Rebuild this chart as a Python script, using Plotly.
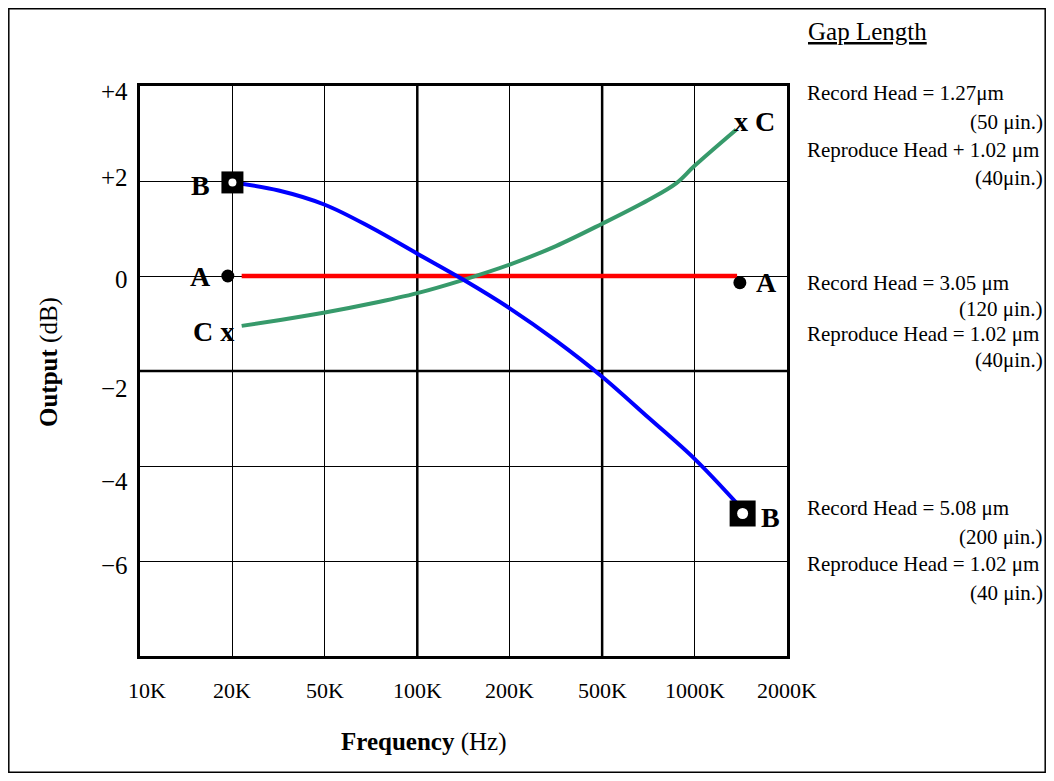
import plotly.graph_objects as go

# ---------------- data ----------------
freq_labels = ["10K", "20K", "50K", "100K", "200K", "500K", "1000K", "2000K"]
freq_pos = [0, 1, 2, 3, 4, 5, 6, 7]

y_tick_labels = ["+4", "+2", "0", "\u22122", "\u22124", "\u22126"]
y_label_at = [3.88, 2.07, -0.08, -2.37, -4.33, -6.10]

# Curve A (red): flat response
a_x = [1.10, 6.46]
a_y = [0.0, 0.0]

# Curve B (blue)
b_x = [1.0, 1.5, 2.0, 2.5, 3.0, 3.5, 4.0, 4.5, 5.0, 5.5, 6.0, 6.45]
b_y = [1.97, 1.80, 1.50, 1.02, 0.47, -0.08, -0.68, -1.36, -2.12, -2.98, -3.85, -4.77]

# Curve C (green)
c_x = [1.10, 1.5, 2.0, 2.5, 3.0, 3.5, 4.0, 4.5, 5.0, 5.5, 5.8, 6.0, 6.45]
c_y = [-1.05, -0.93, -0.77, -0.58, -0.36, -0.08, 0.24, 0.63, 1.10, 1.60, 1.95, 2.32, 3.08]

# End markers
a_mark_x = [0.95, 6.49]
a_mark_y = [0.0, -0.14]
b_mark_x = [1.0, 6.52]
b_mark_y = [1.97, -5.0]

# Curve labels
lab_text = ["<b>B</b>", "<b>A</b>", "<b>C x</b>", "<b>x C</b>", "<b>A</b>", "<b>B</b>"]
lab_x = [0.65, 0.65, 0.79, 6.65, 6.78, 6.82]
lab_y = [1.90, -0.01, -1.17, 3.25, -0.14, -5.09]

# Gap length legend text
gap_left = [
    "Record Head = 1.27\u03bcm", "Reproduce Head + 1.02 \u03bcm",
    "Record Head = 3.05 \u03bcm", "Reproduce Head = 1.02 \u03bcm",
    "Record Head = 5.08 \u03bcm", "Reproduce Head = 1.02 \u03bcm",
]
gap_left_py = [93, 150, 283, 334, 508, 564]
gap_right = ["(50 \u03bcin.)", "(40\u03bcin.)", "(120 \u03bcin.)", "(40\u03bcin.)",
             "(200 \u03bcin.)", "(40 \u03bcin.)"]
gap_right_py = [122, 178, 309, 360, 537, 593]

# ---------------- geometry helpers (page pixels -> paper) ----------------
OFF = 8                      # default page body margin
W, H = 1054 - 2 * OFF, 781 - 2 * OFF
PL, PR, PT, PB = 140, 787, 86, 656   # plot area in page pixels


def px(x):
    return (x - PL) / (PR - PL)


def py(y):
    return (PB - y) / (PB - PT)


FONT = "Liberation Serif"

fig = go.Figure()

fig.add_trace(go.Scatter(x=a_x, y=a_y, mode="lines",
                         line=dict(color="#ff0000", width=4.5), hoverinfo="skip"))
fig.add_trace(go.Scatter(x=c_x, y=c_y, mode="lines",
                         line=dict(color="#379a6b", width=4, shape="spline", smoothing=1),
                         hoverinfo="skip"))
fig.add_trace(go.Scatter(x=b_x, y=b_y, mode="lines",
                         line=dict(color="#0000ff", width=4, shape="spline", smoothing=1),
                         hoverinfo="skip"))

# A markers (black dots)
fig.add_trace(go.Scatter(x=a_mark_x, y=a_mark_y, mode="markers",
                         marker=dict(symbol="circle", color="black", size=13, opacity=1),
                         hoverinfo="skip"))
# B markers (black squares with white dot)
fig.add_trace(go.Scatter(x=b_mark_x, y=b_mark_y, mode="markers",
                         marker=dict(symbol="square", color="black", size=[22, 26], opacity=1,
                                     line=dict(width=0)),
                         hoverinfo="skip"))
fig.add_trace(go.Scatter(x=b_mark_x, y=b_mark_y, mode="markers",
                         marker=dict(symbol="circle", color="white", size=[8, 11], opacity=1,
                                     line=dict(width=0)),
                         hoverinfo="skip"))

annotations = []
# curve labels
for t, x, y in zip(lab_text, lab_x, lab_y):
    annotations.append(dict(x=x, y=y, xref="x", yref="y", text=t, showarrow=False,
                            font=dict(family=FONT, size=28, color="black"),
                            xanchor="center", yanchor="middle"))
# y tick labels
for t, y in zip(y_tick_labels, y_label_at):
    annotations.append(dict(x=px(130), y=y, xref="paper", yref="y", text=t, showarrow=False,
                            font=dict(family=FONT, size=25, color="black"),
                            xanchor="right", yanchor="middle"))
# x tick labels
for i, (t, x) in enumerate(zip(freq_labels, freq_pos)):
    annotations.append(dict(x=x, y=py(690), xref="x", yref="paper", text=t, showarrow=False,
                            font=dict(family=FONT, size=22, color="black"),
                            xanchor="center", yanchor="middle",
                            xshift=7 if i == 0 else 0))
# axis titles
annotations.append(dict(x=px(423), y=py(742), xref="paper", yref="paper",
                        text="<b>Frequency</b> (Hz)", showarrow=False,
                        font=dict(family=FONT, size=25, color="black"),
                        xanchor="center", yanchor="middle"))
annotations.append(dict(x=px(49), y=py(362), xref="paper", yref="paper",
                        text="<b>Output</b> (dB)", showarrow=False, textangle=-90,
                        font=dict(family=FONT, size=25, color="black"),
                        xanchor="center", yanchor="middle"))
# Gap Length header
annotations.append(dict(x=px(868), y=py(32), xref="paper", yref="paper",
                        text="<u>Gap Length</u>", showarrow=False,
                        font=dict(family=FONT, size=25, color="black"),
                        xanchor="center", yanchor="middle"))
for t, yy in zip(gap_left, gap_left_py):
    annotations.append(dict(x=px(805), y=py(yy), xref="paper", yref="paper",
                            text=t, showarrow=False,
                            font=dict(family=FONT, size=21, color="black"),
                            xanchor="left", yanchor="middle"))
for t, yy in zip(gap_right, gap_right_py):
    annotations.append(dict(x=px(1045), y=py(yy), xref="paper", yref="paper",
                            text=t, showarrow=False,
                            font=dict(family=FONT, size=21, color="black"),
                            xanchor="right", yanchor="middle"))

shapes = [
    # thick grid lines
    dict(type="line", xref="x", yref="paper", x0=3, x1=3, y0=0, y1=1,
         line=dict(color="black", width=2.5), layer="below"),
    dict(type="line", xref="x", yref="paper", x0=5, x1=5, y0=0, y1=1,
         line=dict(color="black", width=2.5), layer="below"),
    dict(type="line", xref="paper", yref="y", x0=0, x1=1, y0=-2, y1=-2,
         line=dict(color="black", width=2.5), layer="below"),
    # outer frame
    dict(type="rect", xref="paper", yref="paper",
         x0=px(OFF + 0.8), x1=px(1054 - OFF - 0.8), y0=py(781 - OFF - 0.8), y1=py(OFF + 0.8),
         line=dict(color="black", width=1.5), fillcolor="rgba(0,0,0,0)"),
]

fig.update_layout(
    width=W, height=H, autosize=False,
    margin=dict(l=PL - OFF, r=(1054 - OFF) - PR, t=PT - OFF, b=(781 - OFF) - PB, pad=0),
    plot_bgcolor="white", paper_bgcolor="white",
    showlegend=False,
    font=dict(family=FONT, color="black"),
    annotations=annotations,
    shapes=shapes,
)
fig.update_xaxes(range=[0, 7], tickvals=freq_pos, showticklabels=False, ticks="",
                 showgrid=True, gridcolor="black", gridwidth=1.2, zeroline=False,
                 showline=True, linecolor="black", linewidth=2.5, mirror=True, fixedrange=True)
fig.update_yaxes(range=[-8, 4], tickvals=[4, 2, 0, -2, -4, -6, -8], showticklabels=False,
                 ticks="", showgrid=True, gridcolor="black", gridwidth=1.2, zeroline=False,
                 showline=True, linecolor="black", linewidth=2.5, mirror=True, fixedrange=True)

fig.write_html("out.html", config={"displayModeBar": False})
